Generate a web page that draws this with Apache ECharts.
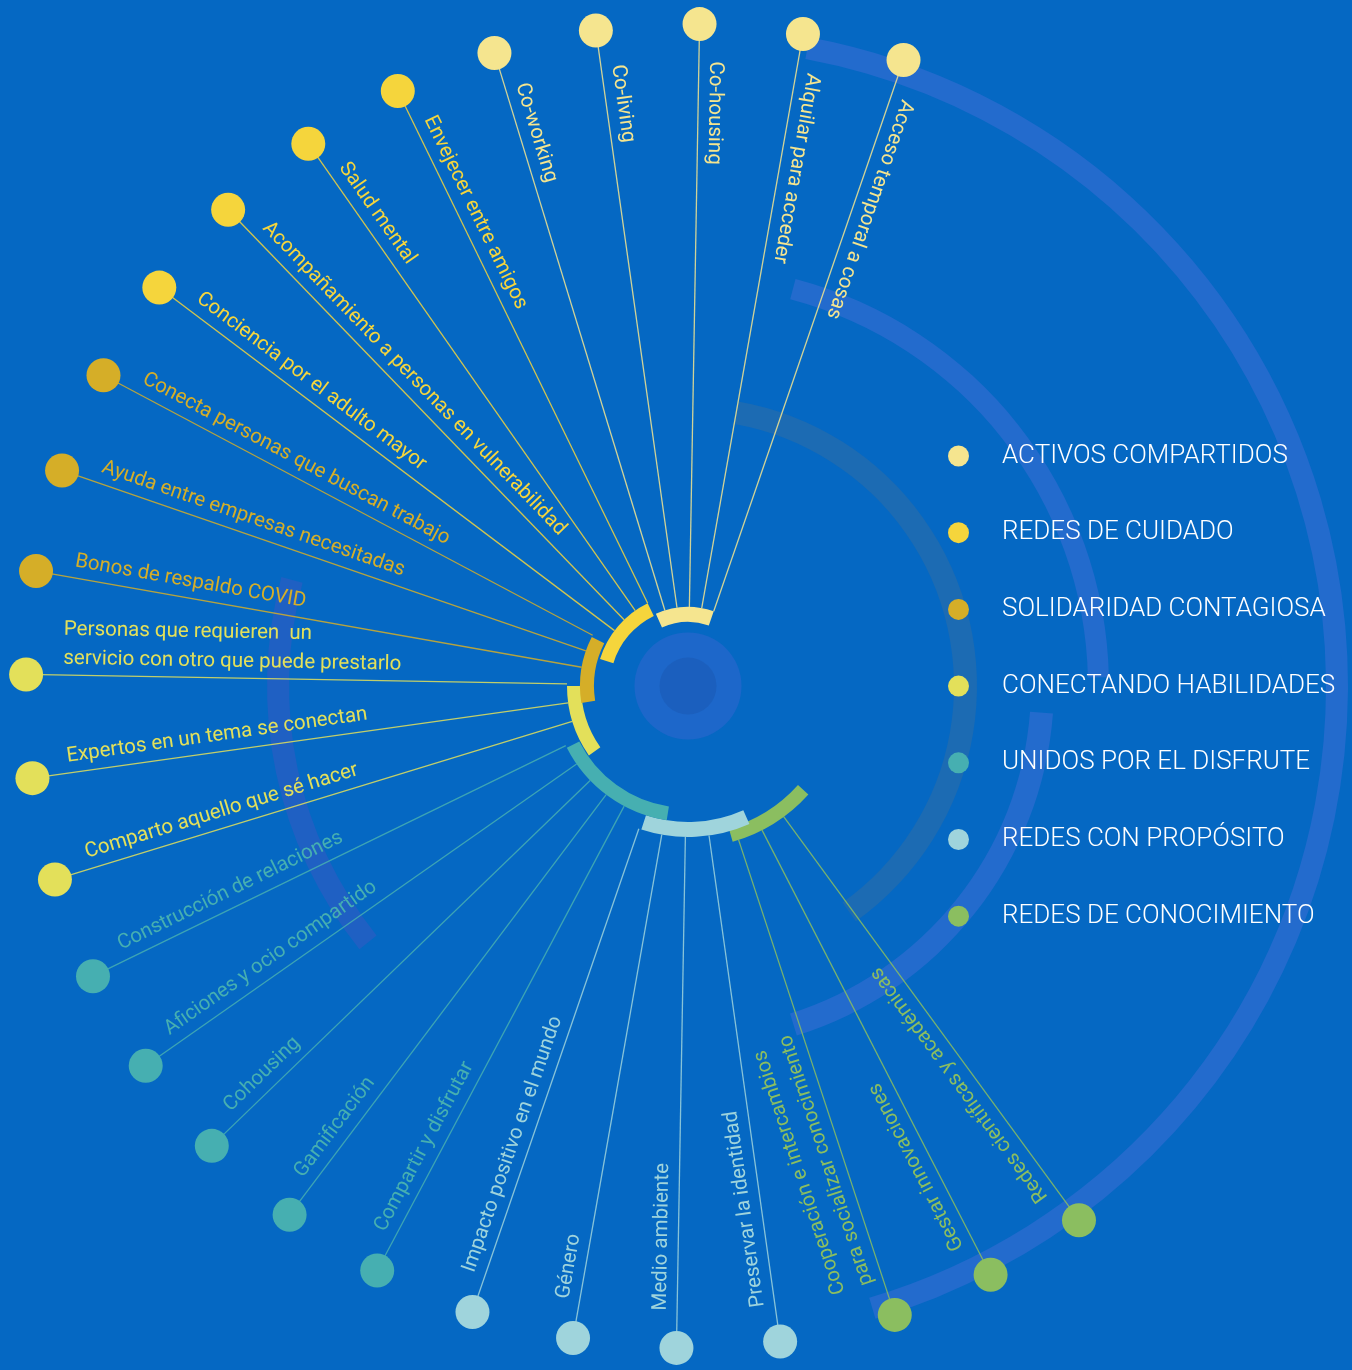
<!DOCTYPE html>
<html>
<head>
<meta charset="utf-8">
<script src="https://cdn.jsdelivr.net/npm/echarts@6/dist/echarts.min.js"></script>
<style>
  html, body { margin: 0; padding: 0; background: #0568c3; }
  #chart { width: 1352px; height: 1370px; }
</style>
</head>
<body>
<div id="chart"></div>
<script>
// categorias de la leyenda
const groups = ['ACTIVOS COMPARTIDOS', 'REDES DE CUIDADO', 'SOLIDARIDAD CONTAGIOSA', 'CONECTANDO HABILIDADES',
  'UNIDOS POR EL DISFRUTE', 'REDES CON PROPÓSITO', 'REDES DE CONOCIMIENTO']

// iniciativas, en sentido antihorario desde arriba a la derecha
const items = [
  'Acceso temporal a cosas', 'Alquilar para acceder', 'Co-housing', 'Co-living', 'Co-working',
  'Envejecer entre amigos', 'Salud mental', 'Acompañamiento a personas en vulnerabilidad', 'Conciencia por el adulto mayor',
  'Conecta personas que buscan trabajo', 'Ayuda entre empresas necesitadas', 'Bonos de respaldo COVID',
  'Personas que requieren  un\nservicio con otro que puede prestarlo', 'Expertos en un tema se conectan', 'Comparto aquello que sé hacer',
  'Construcción de relaciones', 'Aficiones y ocio compartido', 'Cohousing', 'Gamificación', 'Compartir y disfrutar',
  'Impacto positivo en el mundo', 'Género', 'Medio ambiente', 'Preservar la identidad',
  'Cooperación e intercambios\npara socializar conocimiento', 'Gestar innovaciones', 'Redes científicas y académicas'
]
// categoria de cada iniciativa
const itemGroup = [0, 0, 0, 0, 0, 1, 1, 1, 1, 2, 2, 2, 3, 3, 3, 4, 4, 4, 4, 4, 5, 5, 5, 5, 6, 6, 6]

// estilo
const groupColors = ['#f5e58f', '#f5d53c', '#d5ae28', '#e3e05a', '#46afb1', '#9fd4dc', '#8bbe60']
const BG = '#0568c3'

// disposicion (grados, sentido antihorario desde el este; radios en px)
const R_OUT = 662
const R_LABEL = 625
const START_ANGLE = 71
const STEP = 9
const groupShift = [0, 0, 0, 0, 0, 0, 1.2]
const arcInner = [64, 78, 94, 107, 122, 136, 148]
const arcOuter = [79, 92, 108, 121, 136, 151, 162]
const arcAngles = [[71, 114], [116, 163], [153, 189], [180, 215], [207, 261], [252, 294], [286, 318]]
const decoRings = [
  { r0: 638, r: 660, a0: -73.5, a1: 79.4, color: '#236bcd' },
  { r0: 400, r: 421, a0: 1.2, a1: 75.2, color: '#236bcd' },
  { r0: 343, r: 366, a0: -72.7, a1: -4.3, color: '#236bcd' },
  { r0: 266, r: 289, a0: -54.5, a1: 80, color: '#1c6bb3' },
  { r0: 399, r: 421, a0: 165, a1: 218.7, color: '#1f60c3' }
]

const angleOf = i => START_ANGLE + STEP * i + groupShift[itemGroup[i]]
const rad = a => a * Math.PI / 180

const chart = echarts.init(document.getElementById('chart'))

function radiusPx(api, params, r) {
  const p = api.coord([r, 0])
  return Math.hypot(p[0] - params.coordSys.cx, p[1] - params.coordSys.cy)
}

function sector(params, api, r0, r1, a0, a1, color) {
  const c = params.coordSys
  return {
    type: 'sector',
    shape: {
      cx: c.cx, cy: c.cy,
      r0: radiusPx(api, params, r0), r: radiusPx(api, params, r1),
      startAngle: -rad(a0), endAngle: -rad(a1), clockwise: false
    },
    style: { fill: color }
  }
}

const series = []

// arcos decorativos de fondo
series.push({
  type: 'custom',
  coordinateSystem: 'polar',
  silent: true,
  clip: false,
  z: 1,
  data: decoRings.map((d, k) => [d.r, d.a0, k]),
  renderItem(params, api) {
    const d = decoRings[api.value(2)]
    return sector(params, api, d.r0, d.r, d.a0, d.a1, d.color)
  }
})

// circulos centrales
series.push({
  type: 'scatter', coordinateSystem: 'polar', silent: true, z: 2,
  symbolSize: 107, itemStyle: { color: '#2367cc' }, data: [[0, 0]]
})
series.push({
  type: 'scatter', coordinateSystem: 'polar', silent: true, z: 3,
  symbolSize: 57, itemStyle: { color: '#1b5eba' }, data: [[0, 0]]
})

// lineas radiales
series.push({
  type: 'custom',
  coordinateSystem: 'polar',
  silent: true,
  clip: false,
  z: 4,
  data: items.map((t, i) => [R_OUT, angleOf(i), itemGroup[i]]),
  renderItem(params, api) {
    const g = api.value(2)
    const a = api.value(1)
    const p1 = api.coord([api.value(0), a])
    const p2 = api.coord([arcOuter[g], a])
    return {
      type: 'line',
      shape: { x1: p1[0], y1: p1[1], x2: p2[0], y2: p2[1] },
      style: { stroke: groupColors[g], lineWidth: 1.3, opacity: 0.85 }
    }
  }
})

// etiquetas de texto a lo largo de cada linea
series.push({
  type: 'custom',
  coordinateSystem: 'polar',
  silent: true,
  clip: false,
  z: 5,
  data: items.map((t, i) => [R_LABEL, angleOf(i), i]),
  renderItem(params, api) {
    const i = api.value(2)
    const a = api.value(1)
    const p = api.coord([api.value(0), a])
    return {
      type: 'text',
      x: p[0],
      y: p[1],
      rotation: rad(a + 180),
      style: {
        text: items[i],
        x: 0,
        y: -2,
        fill: groupColors[itemGroup[i]],
        fontSize: 20.5,
        fontFamily: 'Roboto',
        lineHeight: 29,
        align: 'left',
        verticalAlign: 'bottom'
      }
    }
  }
})

// arcos de cada categoria (espiral interior)
series.push({
  type: 'custom',
  coordinateSystem: 'polar',
  silent: true,
  clip: false,
  z: 6,
  data: groups.map((g, k) => [arcOuter[k], arcAngles[k][0], k]).reverse(),
  renderItem(params, api) {
    const k = api.value(2)
    return sector(params, api, arcInner[k], arcOuter[k], arcAngles[k][0], arcAngles[k][1], groupColors[k])
  }
})

// circulos exteriores, una serie por categoria
groups.forEach((name, k) => {
  series.push({
    type: 'scatter',
    name: name,
    coordinateSystem: 'polar',
    silent: true,
    z: 7,
    symbol: 'circle',
    symbolSize: 34,
    itemStyle: { color: groupColors[k], opacity: 1 },
    data: items.map((t, i) => i).filter(i => itemGroup[i] === k).map(i => [R_OUT, angleOf(i)])
  })
})

chart.setOption({
  backgroundColor: BG,
  animation: false,
  polar: { center: [688, 686], radius: R_OUT },
  radiusAxis: { type: 'value', min: 0, max: R_OUT, show: false },
  angleAxis: { type: 'value', min: 0, max: 360, startAngle: 0, clockwise: false, show: false },
  legend: {
    orient: 'vertical',
    left: 943,
    top: 438,
    icon: 'circle',
    itemWidth: 21,
    itemHeight: 21,
    itemGap: 50.7,
    selectedMode: false,
    data: groups,
    textStyle: {
      color: '#ffffff',
      fontSize: 26,
      fontWeight: 300,
      fontFamily: 'Roboto',
      lineHeight: 21,
      padding: [0, 0, 0, 28]
    }
  },
  series: series
})
</script>
</body>
</html>
